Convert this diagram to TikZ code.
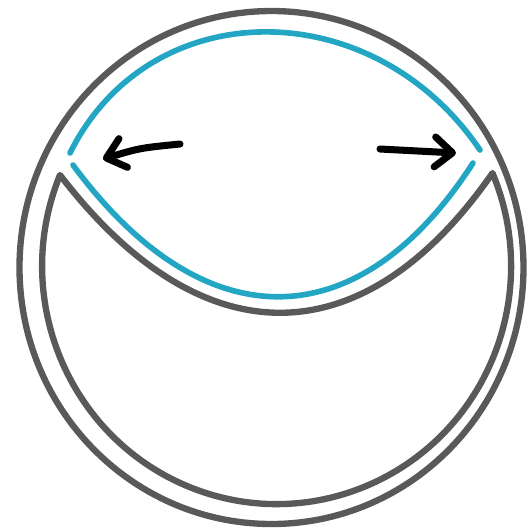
\documentclass[tikz,border=0pt]{standalone}
\usepackage{tikz}
\usetikzlibrary{arrows.meta}
\definecolor{valvegray}{RGB}{89,89,89}
\definecolor{leafblue}{RGB}{35,166,196}
\tikzset{
    wall/.style={valvegray,line width=1.8pt,line join=round},
    leaflet/.style={leafblue,line width=1.6pt,line cap=round},
    pushout/.style={black,line width=2pt,line cap=round,
      -{Straight Barb[round,length=5pt,width=8.5pt]}}
}

\begin{document}
\begin{tikzpicture}[x=0.01cm,y=-0.01cm]
    \useasboundingbox (0,0) rectangle (530,532);
    % outer wall
    \draw[wall] (271.5,267.5) ellipse [x radius=252, y radius=256.5];
    % inner wall with the two cusps
    \coordinate (lcusp) at (60,175);
    \coordinate (rcusp) at (490,173);
    \draw[wall] (lcusp) arc [start angle=202.5, end angle=-23, x radius=234.5, y radius=238]
      .. controls (363,359) and (201,359) .. (lcusp) -- cycle;
    % leaflet
    \coordinate (lupper) at (70,153);
    \coordinate (rupper) at (480,150);
    \coordinate (llower) at (73,165);
    \coordinate (rlower) at (473,163);
    \draw[leaflet] (lupper) .. controls (150,-8) and (373,-8) .. (rupper);
    \draw[leaflet] (llower) .. controls (203,341) and (358,341) .. (rlower);
    % arrows
    \coordinate (ltail) at (180,144);
    \coordinate (lhead) at (103,159);
    \coordinate (rtail) at (380,149);
    \coordinate (rhead) at (456,153);
    \draw[pushout] (ltail) .. controls (140,148) .. (lhead);
    \draw[pushout] (rtail) -- (rhead);
\end{tikzpicture}
\end{document}
